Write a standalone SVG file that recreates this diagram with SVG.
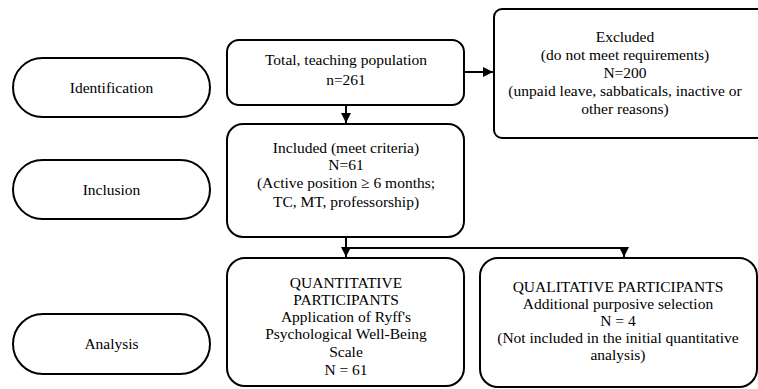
<svg xmlns="http://www.w3.org/2000/svg" width="758" height="389" viewBox="0 0 758 389">
<style>
.box{fill:#fff;stroke:#000;stroke-width:2}
.c{fill:none;stroke:#000;stroke-width:2}
</style>
<defs>
<marker id="ah" markerUnits="userSpaceOnUse" markerWidth="12" markerHeight="12" refX="10" refY="5" orient="auto">
<path d="M0,0 L10,5 L0,10 Z" fill="#000"/>
</marker>
</defs>
<rect width="758" height="389" fill="#fff"/>
<g font-family="Liberation Serif, serif" font-size="15.5" text-anchor="middle" fill="#000">
<g id="identification">
<rect class="box" x="13" y="58" width="197" height="59" rx="29.5"/>
<text x="111.5" y="93">Identification</text>
</g>
<g id="inclusion">
<rect class="box" x="13" y="160" width="197" height="59" rx="29.5"/>
<text x="111.5" y="195">Inclusion</text>
</g>
<g id="analysis">
<rect class="box" x="13" y="314" width="197" height="60" rx="30"/>
<text x="111.5" y="349">Analysis</text>
</g>
<g id="total">
<rect class="box" x="227" y="40" width="237" height="65" rx="12"/>
<text x="346" y="65">Total, teaching population</text>
<text x="346" y="85">n=261</text>
</g>
<g id="excluded">
<rect class="box" x="494" y="9" width="272" height="129" rx="8"/>
<text x="625" y="42">Excluded</text>
<text x="625" y="60">(do not meet requirements)</text>
<text x="625" y="78">N=200</text>
<text x="625" y="96">(unpaid leave, sabbaticals, inactive or</text>
<text x="625" y="114">other reasons)</text>
</g>
<g id="included">
<rect class="box" x="227" y="124" width="237" height="113" rx="16"/>
<text x="346" y="153">Included (meet criteria)</text>
<text x="346" y="170">N=61</text>
<text x="346" y="188">(Active position ≥ 6 months;</text>
<text x="346" y="207">TC, MT, professorship)</text>
</g>
<g id="quantitative">
<rect class="box" x="227" y="258" width="237" height="128" rx="18"/>
<text x="346" y="288">QUANTITATIVE</text>
<text x="346" y="305">PARTICIPANTS</text>
<text x="346" y="322">Application of Ryff's</text>
<text x="346" y="339">Psychological Well-Being</text>
<text x="346" y="357">Scale</text>
<text x="346" y="375">N = 61</text>
</g>
<g id="qualitative">
<rect class="box" x="480" y="258" width="277" height="129" rx="18"/>
<text x="618" y="292">QUALITATIVE PARTICIPANTS</text>
<text x="618" y="309">Additional purposive selection</text>
<text x="618" y="326">N = 4</text>
<text x="618" y="343">(Not included in the initial quantitative</text>
<text x="618" y="360">analysis)</text>
</g>
</g>
<g id="connectors">
<line class="c" x1="464" y1="72" x2="493" y2="72" marker-end="url(#ah)"/>
<line class="c" x1="346" y1="105" x2="346" y2="123" marker-end="url(#ah)"/>
<line class="c" x1="346" y1="237" x2="346" y2="257" marker-end="url(#ah)"/>
<polyline class="c" points="346,248 624,248 624,257" marker-end="url(#ah)"/>
</g>
</svg>
